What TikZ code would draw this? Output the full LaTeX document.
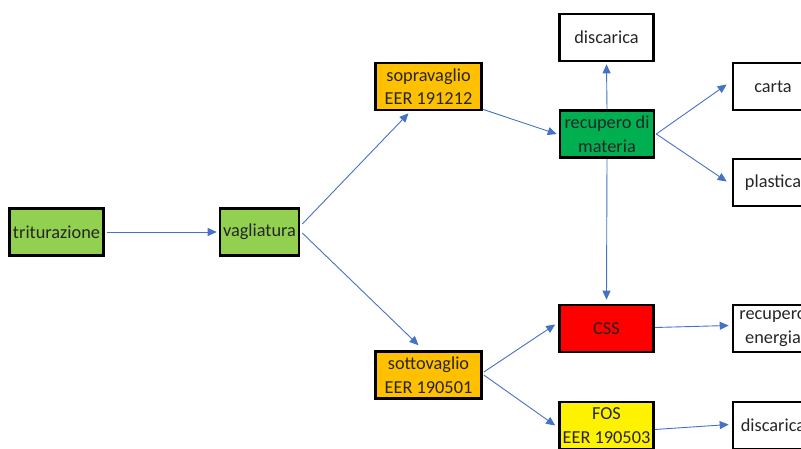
\documentclass[tikz,border=0pt]{standalone}
\usepackage{fontspec}
\setmainfont{Carlito}
\usepackage{xcolor}
\usetikzlibrary{arrows.meta}
\definecolor{lgreen}{HTML}{92D050}
\definecolor{dgreen}{HTML}{00B050}
\definecolor{amber}{HTML}{FFC000}
\definecolor{arrowblue}{HTML}{4472C4}

\begin{document}
\begin{tikzpicture}[x=1pt,y=-1pt,
  box/.style={draw=black,line width=2.6pt,minimum width=94pt,minimum height=47pt,inner sep=1pt,align=center,text=black!85,font=\fontsize{18.3}{23.5}\selectfont},
  flow/.style={draw=arrowblue,line width=0.9pt,-{Triangle[length=9pt,width=8pt]}}]
\useasboundingbox (0,0) rectangle (801,448);
\clip (0,0) rectangle (801,448);
\node[box,fill=lgreen] (trit) at (56.5,232) {triturazione};
\node[box,fill=lgreen,minimum width=79pt] (vagl) at (259.5,232) {vagliatura};
\node[box,fill=amber,minimum width=106pt] (sopra) at (428.5,86.5) {sopravaglio\\EER 191212};
\node[box,fill=amber,minimum width=106pt] (sotto) at (428.5,375) {sottovaglio\\EER 190501};
\node[box,fill=dgreen] (recmat) at (607,134) {recupero di\\materia};
\node[box,fill=white] (disc1) at (606.5,37.5) {discarica};
\node[box,fill=red] (css) at (606.5,328.5) {CSS};
\node[box,fill=yellow] (fos) at (606.5,425.5) {FOS\\EER 190503};
\node[box,fill=white,minimum width=80pt] (carta) at (773,86.5) {carta};
\node[box,fill=white,minimum width=80pt] (plast) at (773,182.5) {plastica};
\node[box,fill=white,minimum width=80pt] (recen) at (773,328.5) {recupero\\energia};
\node[box,fill=white,minimum width=80pt] (disc2) at (773,425.5) {discarica};
\draw[flow] ([xshift=2pt]trit.east) -- ([xshift=-2pt]vagl.west);
\draw[flow] ([yshift=8pt,xshift=2pt]vagl.east) -- ([yshift=-2pt,xshift=-20pt]sopra.south);
\draw[flow] ([yshift=-1pt,xshift=2pt]vagl.east) -- ([yshift=5pt,xshift=-10pt]sotto.north);
\draw[flow] ([yshift=2pt]sopra.south east) -- ([xshift=-2pt]recmat.west);
\draw[flow] (recmat.north) -- ([yshift=-2pt]disc1.south);
\draw[flow] ([xshift=1pt]recmat.east) -- ([xshift=-5pt,yshift=2pt]carta.west);
\draw[flow] ([xshift=1pt]recmat.east) -- ([xshift=-5pt,yshift=1pt]plast.west);
\draw[flow] (recmat.south) -- ([yshift=4pt]css.north);
\draw[flow] ([yshift=3pt,xshift=1pt]sotto.east) -- ([xshift=-3pt,yshift=4pt]css.west);
\draw[flow] ([xshift=1pt]sotto.east) -- ([xshift=-3pt]fos.west);
\draw[flow] ([yshift=1pt]css.east) -- ([xshift=-3pt,yshift=3pt]recen.west);
\draw[flow] ([yshift=-4pt]fos.east) -- ([xshift=-3pt,yshift=1pt]disc2.west);
\end{tikzpicture}
\end{document}
